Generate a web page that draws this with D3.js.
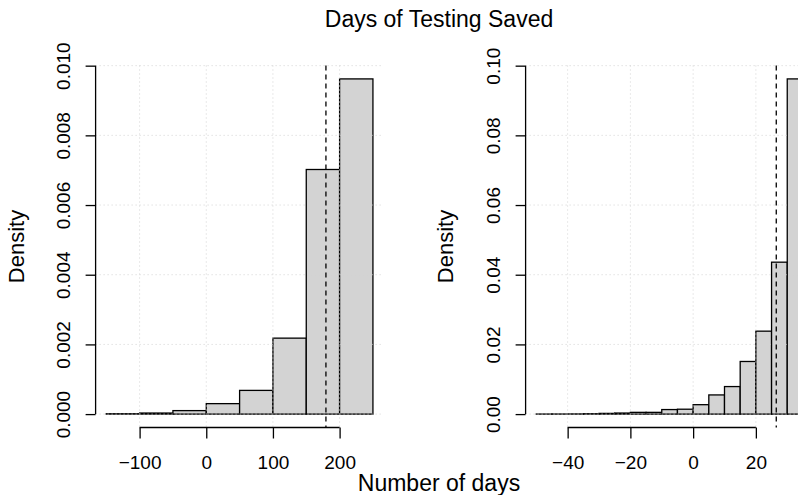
<!DOCTYPE html>
<html>
<head>
<meta charset="utf-8">
<script src="https://cdn.jsdelivr.net/npm/d3@7"></script>
<style>
  body { margin: 0; background: #fff; }
  svg { display: block; font-family: "Liberation Sans", Arial, Helvetica, sans-serif; }
</style>
</head>
<body>
<svg width="798" height="495"></svg>
<script>
// histogram breaks and densities
const leftBreaks = [-150, -100, -50, 0, 50, 100, 150, 200, 250]
const leftDensity = [0.00001, 0.00003, 0.0001, 0.0003, 0.00068, 0.00218, 0.00702, 0.00962]
const leftTicksX = [-100, 0, 100, 200]
const leftTicksY = [0, 0.002, 0.004, 0.006, 0.008, 0.010]
const leftMarker = 179.5

const rightBreaks = [-50, -45, -40, -35, -30, -25, -20, -15, -10, -5, 0, 5, 10, 15, 20, 25, 30, 35]
const rightDensity = [0.00002, 0.00003, 0.00005, 0.0001, 0.0002, 0.0003, 0.0005, 0.0005, 0.0013, 0.0014, 0.0027, 0.0055, 0.0079, 0.0151, 0.0238, 0.0436, 0.0962]
const rightTicksX = [-40, -20, 0, 20]
const rightTicksY = [0, 0.02, 0.04, 0.06, 0.08, 0.10]
const rightMarker = 26.5

const titleText = "Days of Testing Saved"
const xLabel = "Number of days"
const yLabel = "Density"

const svg = d3.select("svg")

// plot region of each panel (R style, 4% padding on the data range)
const plotTop = 65.5
const plotBottom = 427.5
const plotWidth = 288

function drawPanel(breaks, density, ticksX, ticksY, marker, left, yFormat, labelX) {
    let [x0, x1] = d3.extent(breaks)
    let padX = (x1 - x0) * 0.04
    let xScale = d3.scaleLinear()
        .domain([x0 - padX, x1 + padX])
        .range([left, left + plotWidth])

    let yMax = d3.max(density)
    let yScale = d3.scaleLinear()
        .domain([-yMax * 0.04, yMax * 1.04])
        .range([plotBottom, plotTop])

    let bins = density.map((d, i) => ({ x0: breaks[i], x1: breaks[i + 1], d: d }))

    let g = svg.append("g")

    // bars
    g.selectAll("rect")
        .data(bins)
        .join("rect")
        .attr("x", d => xScale(d.x0))
        .attr("y", d => yScale(d.d))
        .attr("width", d => xScale(d.x1) - xScale(d.x0))
        .attr("height", d => yScale(0) - yScale(d.d))
        .attr("fill", "#d3d3d3")
        .attr("stroke", "#000")
        .attr("stroke-width", 1.3)

    // dotted grid drawn on top of the bars
    g.selectAll(".gx")
        .data(ticksX)
        .join("line")
        .attr("x1", d => xScale(d))
        .attr("x2", d => xScale(d))
        .attr("y1", plotTop)
        .attr("y2", plotBottom)
        .attr("stroke", "#d3d3d3")
        .attr("stroke-dasharray", "1,3")

    g.selectAll(".gy")
        .data(ticksY)
        .join("line")
        .attr("x1", left)
        .attr("x2", left + plotWidth)
        .attr("y1", d => yScale(d))
        .attr("y2", d => yScale(d))
        .attr("stroke", "#d3d3d3")
        .attr("stroke-dasharray", "1,3")

    // dashed marker line
    g.append("line")
        .attr("x1", xScale(marker))
        .attr("x2", xScale(marker))
        .attr("y1", plotTop)
        .attr("y2", plotBottom)
        .attr("stroke", "#000")
        .attr("stroke-width", 1.3)
        .attr("stroke-dasharray", "5,4")

    // x axis
    let xAxis = g.append("g")
        .attr("transform", `translate(0,${plotBottom})`)
        .call(d3.axisBottom(xScale).tickValues(ticksX).tickSize(11).tickSizeOuter(0).tickFormat(d3.format("d")))
    xAxis.select(".domain").remove()
    xAxis.append("line")
        .attr("x1", xScale(ticksX[0]))
        .attr("x2", xScale(ticksX[ticksX.length - 1]))
        .attr("stroke", "#000")
        .attr("stroke-width", 1.3)
    xAxis.selectAll(".tick line").attr("stroke-width", 1.3)
    xAxis.selectAll("text")
        .attr("y", 41.5)
        .attr("dy", 0)
        .attr("fill", "#000")
        .style("font-size", "19px")

    // y axis
    let yAxis = g.append("g")
        .attr("transform", `translate(${left},0)`)
        .call(d3.axisLeft(yScale).tickValues(ticksY).tickSize(10).tickSizeOuter(0).tickFormat(yFormat))
    yAxis.select(".domain").remove()
    yAxis.append("line")
        .attr("y1", yScale(ticksY[0]))
        .attr("y2", yScale(ticksY[ticksY.length - 1]))
        .attr("stroke", "#000")
        .attr("stroke-width", 1.3)
    yAxis.selectAll(".tick line").attr("stroke-width", 1.3)
    yAxis.selectAll("text")
        .attr("x", 0)
        .attr("dy", 0)
        .attr("text-anchor", "middle")
        .attr("transform", "translate(-25.5,0) rotate(-90)")
        .attr("fill", "#000")
        .style("font-size", "19px")

    // axis title
    svg.append("text")
        .attr("transform", `translate(${labelX},${(plotTop + plotBottom) / 2}) rotate(-90)`)
        .attr("text-anchor", "middle")
        .style("font-size", "22px")
        .text(yLabel)
}

drawPanel(leftBreaks, leftDensity, leftTicksX, leftTicksY, leftMarker, 95.6, d3.format(".3f"), 23.5)
drawPanel(rightBreaks, rightDensity, rightTicksX, rightTicksY, rightMarker, 525.6, d3.format(".2f"), 452.5)

// outer title and shared x label, centred on the full (cropped) figure
svg.append("text")
    .attr("x", 439)
    .attr("y", 27)
    .attr("text-anchor", "middle")
    .style("font-size", "23px")
    .text(titleText)

svg.append("text")
    .attr("x", 439)
    .attr("y", 491)
    .attr("text-anchor", "middle")
    .style("font-size", "23px")
    .text(xLabel)
</script>
</body>
</html>
